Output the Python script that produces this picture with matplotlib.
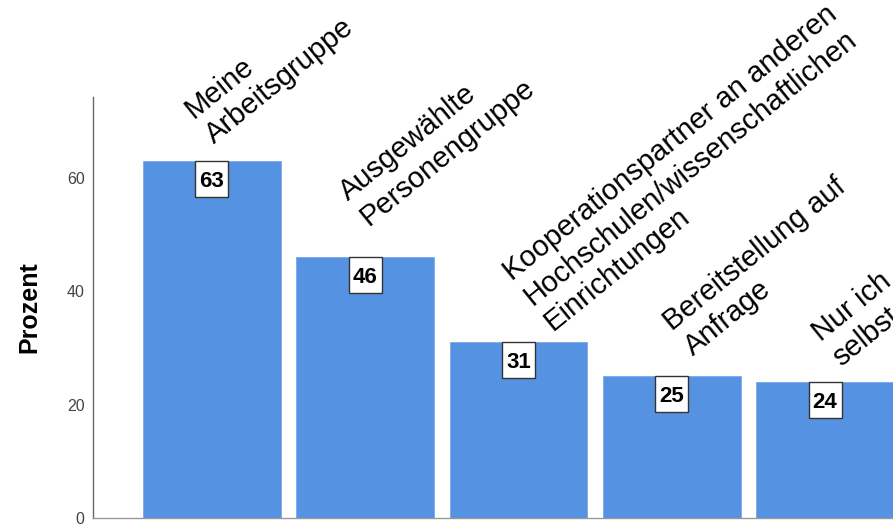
import matplotlib
matplotlib.use("Agg")
import matplotlib.pyplot as plt
import matplotlib.transforms as mtransforms
from matplotlib.patches import Rectangle

categories = [
    "Meine\nArbeitsgruppe",
    "Ausgewählte\nPersonengruppe",
    "Kooperationspartner an anderen\nHochschulen/wissenschaftlichen\nEinrichtungen",
    "Bereitstellung auf\nAnfrage",
    "Nur ich\nselbst",
]
values = [63, 46, 31, 25, 24]
yticks = [0, 20, 40, 60]
ylabel = "Prozent"

# layout: pixel offsets of each rotated category label from its bar top
label_offsets = [(6, 12), (7, 26), (38, 6), (25, 15), (20, 10)]

plt.rcParams['font.family'] = ['Liberation Sans', 'DejaVu Sans']

W, H = 893, 526
fig = plt.figure(figsize=(W / 100, H / 100), dpi=100)
ax = fig.add_axes([93 / W, 8 / H, 851 / W, 421 / H])

x = list(range(len(values)))
ax.bar(x, values, width=0.9, color='#5593e2', edgecolor='#7aaaea', linewidth=0.6, zorder=2)

ax.set_xlim(-0.776, 4.776)
ax.set_ylim(0, 74.2)
ax.set_yticks(yticks)
ax.set_yticklabels([str(t) for t in yticks], fontsize=11.5, color='#444444')
ax.tick_params(axis='y', length=0, pad=6)
ax.set_xticks([])
ax.set_ylabel(ylabel, fontsize=18, fontweight='bold', labelpad=18)

for s in ['top', 'right']:
    ax.spines[s].set_visible(False)
ax.spines['left'].set_color('#666666')
ax.spines['bottom'].set_color('#999999')
ax.spines['left'].set_linewidth(1.0)
ax.spines['bottom'].set_linewidth(1.0)

box_w, box_h = 0.33, 0.36  # inches
for xi, v, lab, (dx, dy) in zip(x, values, categories, label_offsets):
    trans = fig.dpi_scale_trans + mtransforms.ScaledTranslation(xi, v, ax.transData)
    ax.add_patch(Rectangle((-box_w / 2, -box_h), box_w, box_h, transform=trans,
                           facecolor='white', edgecolor='#333333', linewidth=1.0,
                           zorder=5, clip_on=False))
    ax.annotate(str(v), xy=(xi, v), xytext=(0, -26), textcoords='offset pixels',
                ha='center', va='baseline', fontsize=16, fontweight='bold', color='black',
                zorder=6)
    ax.annotate(lab, xy=(xi, v), xytext=(dx, dy), textcoords='offset pixels',
                ha='left', va='bottom', rotation=39, rotation_mode='anchor',
                fontsize=21, color='black', linespacing=1.2, annotation_clip=False)

fig.savefig("out.png", dpi=100)
